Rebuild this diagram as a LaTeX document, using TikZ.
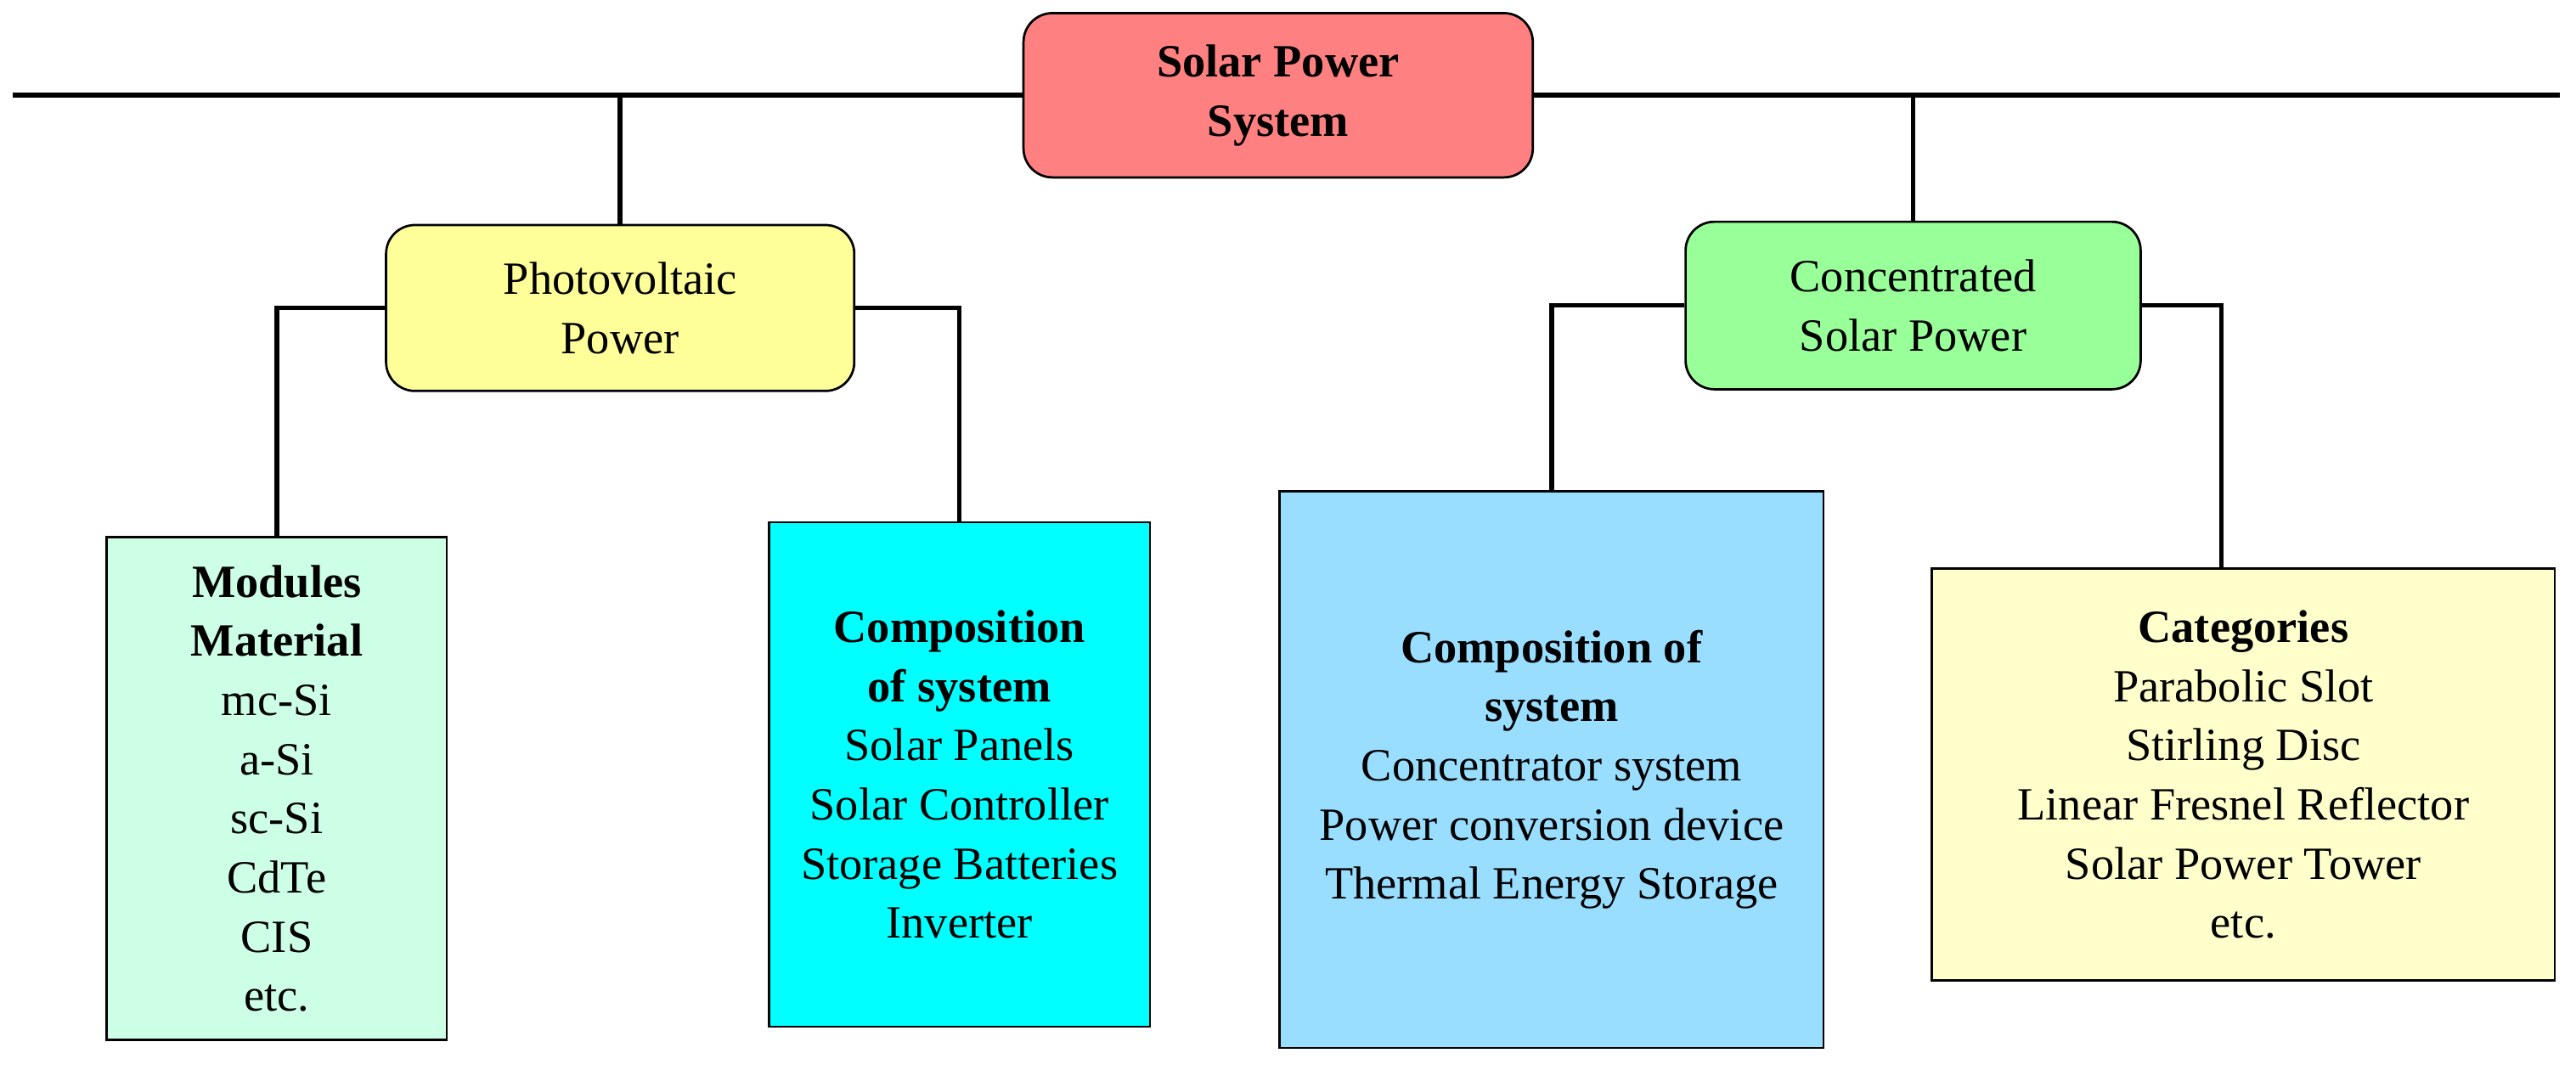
\documentclass[tikz,border=0pt]{standalone}
\usepackage{fontspec}
\setmainfont{Liberation Serif}
\begin{document}
\begin{tikzpicture}[x=0.02cm, y=-0.02cm, line width=1.6pt,
  box/.style={draw, thick, align=center, inner sep=0pt, font=\fontsize{16}{20.5}\selectfont},
  rbox/.style={box, rounded corners=10pt}]
\useasboundingbox (0,0) rectangle (1568,651);
\coordinate (l) at (8,58); \coordinate (r) at (1558,58);
\draw (l) -- (r);
\node[rbox, fill={rgb,255:red,255;green,128;blue,128}, minimum width=310*0.02cm, minimum height=100*0.02cm] (sps) at (778,58) {\textbf{Solar Power}\\\textbf{System}};
\node[rbox, fill={rgb,255:red,255;green,255;blue,153}, minimum width=285*0.02cm, minimum height=101*0.02cm] (pv) at (377.5,187.5) {Photovoltaic\\Power};
\node[rbox, fill={rgb,255:red,153;green,255;blue,153}, minimum width=277*0.02cm, minimum height=102*0.02cm] (csp) at (1164.5,186) {Concentrated\\Solar Power};
\node[box, fill={rgb,255:red,204;green,255;blue,229}, minimum width=207*0.02cm, minimum height=306*0.02cm] (mod) at (168.5,480) {\textbf{Modules}\\\textbf{Material}\\mc-Si\\a-Si\\sc-Si\\CdTe\\CIS\\etc.};
\node[box, fill={rgb,255:red,0;green,255;blue,255}, minimum width=232*0.02cm, minimum height=307*0.02cm] (pvc) at (584,471.5) {\textbf{Composition}\\\textbf{of system}\\Solar Panels\\Solar Controller\\Storage Batteries\\Inverter};
\node[box, fill={rgb,255:red,153;green,221;blue,255}, minimum width=331*0.02cm, minimum height=339*0.02cm] (cspc) at (944.5,468.5) {\textbf{Composition of}\\\textbf{system}\\Concentrator system\\Power conversion device\\Thermal Energy Storage};
\node[box, fill={rgb,255:red,255;green,255;blue,204}, minimum width=379*0.02cm, minimum height=251*0.02cm] (cat) at (1365.5,471.5) {\textbf{Categories}\\Parabolic Slot\\Stirling Disc\\Linear Fresnel Reflector\\Solar Power Tower\\etc.};
\coordinate (catc) at (1352,346);
\draw (pv.north) -- (pv.north |- l);
\draw (csp.north) -- (csp.north |- l);
\draw (pv.west) -| (mod.north);
\draw (pv.east) -| (pvc.north);
\draw (csp.west) -| (cspc.north);
\draw (csp.east) -| (catc);
\end{tikzpicture}
\end{document}
